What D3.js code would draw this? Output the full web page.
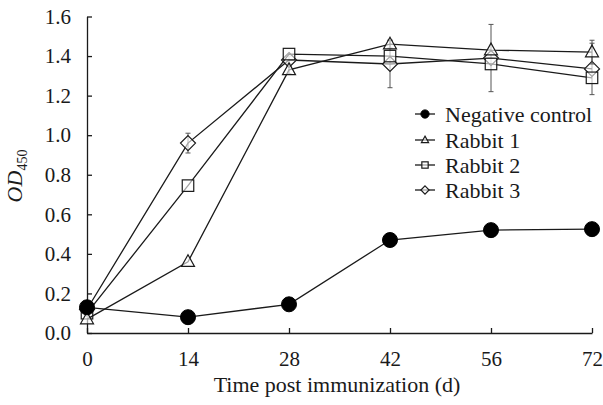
<!DOCTYPE html>
<html>
<head>
<meta charset="utf-8">
<script src="https://cdn.jsdelivr.net/npm/d3@7"></script>
<style>
  html, body { margin: 0; padding: 0; background: #fff; }
  svg text { font-family: "Liberation Serif", "Times New Roman", serif !important; }
</style>
</head>
<body>
<svg id="chart" width="603" height="405"></svg>
<script>
// ---- data ----
const days = ["0", "14", "28", "42", "56", "72"];
const yTicks = [0, 0.2, 0.4, 0.6, 0.8, 1.0, 1.2, 1.4, 1.6];
const seriesNames = ["Negative control", "Rabbit 1", "Rabbit 2", "Rabbit 3"];
const seriesSymbols = ["circle", "triangle", "square", "diamond"];
const negativeControl = [0.13, 0.08, 0.145, 0.47, 0.52, 0.525];
const rabbit1 = [0.07, 0.36, 1.33, 1.46, 1.43, 1.42];
const rabbit2 = [0.10, 0.745, 1.41, 1.40, 1.36, 1.29];
const rabbit3 = [0.12, 0.96, 1.38, 1.36, 1.39, 1.335];
const negativeErr = [0, 0, 0, 0, 0, 0];
const rabbit1Err = [0, 0, 0.02, 0.02, 0, 0.06];
const rabbit2Err = [0, 0, 0, 0, 0, 0];
const rabbit3Err = [0, 0.05, 0.02, 0.12, 0.17, 0.13];
const xTitle = "Time post immunization (d)";

const seriesValues = [negativeControl, rabbit1, rabbit2, rabbit3];
const seriesErrs = [negativeErr, rabbit1Err, rabbit2Err, rabbit3Err];

// ---- layout ----
const svg = d3.select("#chart");
const mLeft = 87, mRight = 592, mTop = 16.5, mBottom = 333;
const ink = "#1a1a1a";
const serif = "'Liberation Serif', 'Times New Roman', serif";

const x = d3.scalePoint().domain(days).range([mLeft, mRight]).padding(0);
const y = d3.scaleLinear().domain([0, 1.6]).range([mBottom, mTop]);

// axes
const yAxis = d3.axisLeft(y).tickValues(yTicks).tickFormat(d3.format(".1f"))
  .tickSizeInner(-5).tickSizeOuter(0).tickPadding(16);
const gy = svg.append("g").attr("transform", `translate(${mLeft},0)`).call(yAxis)
  .attr("font-family", serif).attr("font-size", 21);
gy.selectAll("text").attr("fill", ink);
gy.selectAll("line,path").attr("stroke", ink).attr("stroke-width", 1.3);

const xAxis = d3.axisBottom(x).tickSizeInner(-5).tickSizeOuter(0).tickPadding(18);
const gx = svg.append("g").attr("transform", `translate(0,${mBottom})`).call(xAxis)
  .attr("font-family", serif).attr("font-size", 21);
gx.selectAll("text").attr("fill", ink);
gx.selectAll("line,path").attr("stroke", ink).attr("stroke-width", 1.3);

// axis titles
svg.append("text").attr("x", 337).attr("y", 392)
  .attr("text-anchor", "middle").attr("font-size", 22).attr("fill", ink).text(xTitle);

const yt = svg.append("text")
  .attr("transform", "translate(22,176) rotate(-90)")
  .attr("text-anchor", "middle").attr("font-size", 22).attr("fill", ink);
yt.append("tspan").attr("font-style", "italic").text("OD");
yt.append("tspan").attr("font-size", 14).attr("dy", 5).text("450");

// symbol drawing
function drawSymbol(g, type, cx, cy, scale) {
  if (type === "circle") {
    g.append("circle").attr("cx", cx).attr("cy", cy).attr("r", 7.5 * scale)
      .attr("fill", "#000").attr("stroke", "#000");
  } else if (type === "triangle") {
    const s = 13 * scale, h = s * 0.9;
    g.append("path").attr("d", `M${cx},${cy - h * 0.6} L${cx + s / 2},${cy + h * 0.4} L${cx - s / 2},${cy + h * 0.4}Z`)
      .attr("fill", "#fff").attr("fill-opacity", 0.6).attr("stroke", ink).attr("stroke-width", 1.2);
  } else if (type === "square") {
    const s = 11.5 * scale;
    g.append("rect").attr("x", cx - s / 2).attr("y", cy - s / 2).attr("width", s).attr("height", s)
      .attr("fill", "#fff").attr("fill-opacity", 0.6).attr("stroke", ink).attr("stroke-width", 1.2);
  } else if (type === "diamond") {
    const r = 7.5 * scale;
    g.append("path").attr("d", `M${cx},${cy - r} L${cx + r},${cy} L${cx},${cy + r} L${cx - r},${cy}Z`)
      .attr("fill", "#fff").attr("fill-opacity", 0.6).attr("stroke", ink).attr("stroke-width", 1.2);
  }
}

const line = d3.line().x((d, i) => x(days[i])).y(d => y(d));
const plot = svg.append("g");

// draw order: rabbits then negative control on top
const order = [3, 2, 1, 0];
order.forEach(si => {
  const vals = seriesValues[si];
  const errs = seriesErrs[si];
  const g = plot.append("g");
  // error bars
  vals.forEach((v, i) => {
    const e = errs[i];
    if (e > 0) {
      const cx = x(days[i]);
      g.append("line").attr("x1", cx).attr("x2", cx).attr("y1", y(v + e)).attr("y2", y(v - e))
        .attr("stroke", "#555").attr("stroke-width", 1);
      [v + e, v - e].forEach(w => g.append("line").attr("x1", cx - 2.5).attr("x2", cx + 2.5)
        .attr("y1", y(w)).attr("y2", y(w)).attr("stroke", "#555").attr("stroke-width", 1));
    }
  });
  g.append("path").datum(vals).attr("d", line).attr("fill", "none")
    .attr("stroke", ink).attr("stroke-width", 1.3);
  vals.forEach((v, i) => drawSymbol(g, seriesSymbols[si], x(days[i]), y(v), 1));
});

// legend
const legendY = [114, 140, 165, 190];
const lg = svg.append("g");
seriesNames.forEach((name, i) => {
  const cy = legendY[i];
  lg.append("line").attr("x1", 415).attr("x2", 435).attr("y1", cy).attr("y2", cy)
    .attr("stroke", ink).attr("stroke-width", 1.3);
  drawSymbol(lg, seriesSymbols[i], 425, cy, 0.55);
  lg.append("text").attr("x", 445).attr("y", cy + 7.5).attr("font-size", 22)
    .attr("fill", ink).text(name);
});
</script>
</body>
</html>
